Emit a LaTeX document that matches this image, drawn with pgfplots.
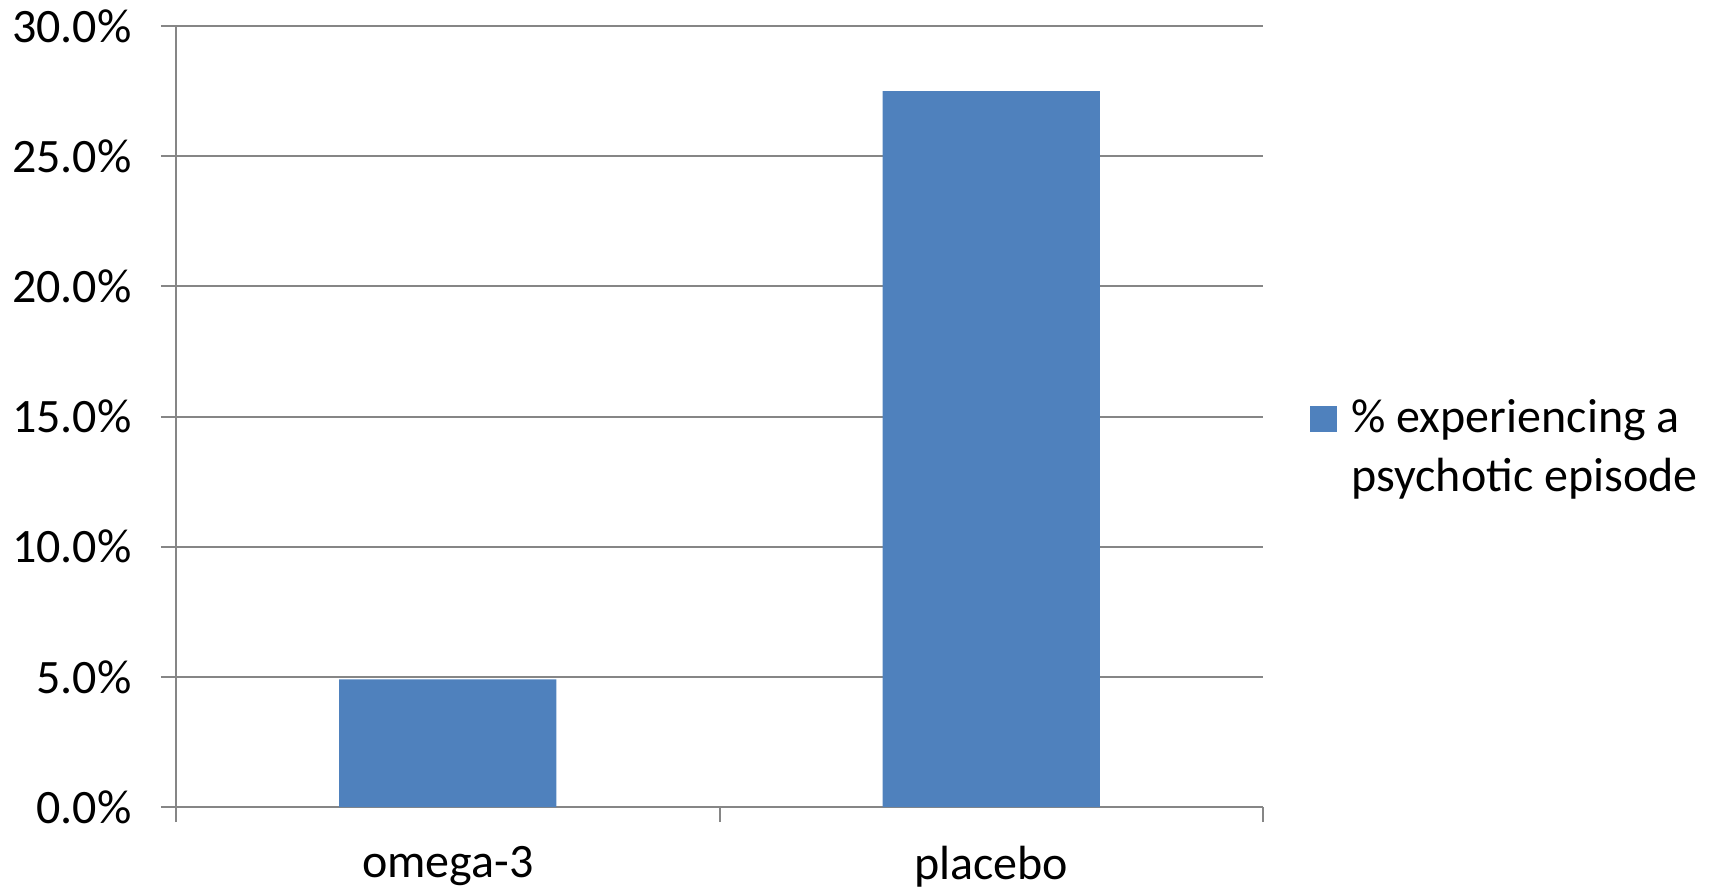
\documentclass[border=0pt]{standalone}
\usepackage{pgfplots}
\pgfplotsset{compat=1.18}
\usepackage{fontspec}
\setmainfont{Carlito}
\definecolor{barblue}{HTML}{4F81BD}
\definecolor{gridgray}{HTML}{868686}
\begin{document}
\fontsize{24}{29}\selectfont
\begin{tikzpicture}
\useasboundingbox (0,0) rectangle (857.5pt,445.5pt);
\begin{axis}[
  at={(88pt,42pt)}, anchor=south west,
  scale only axis, width=543.5pt, height=390.5pt,
  ymin=0, ymax=30,
  xmin=-0.5, xmax=1.5,
  axis x line*=bottom, axis y line*=left,
  axis line style={gridgray, line width=1pt, -},
  ytick={0,5,10,15,20,25,30},
  yticklabel={\pgfmathprintnumber[fixed,fixed zerofill,precision=1]{\tick}\%},
  /pgf/number format/assume math mode=true,
  ymajorgrids, grid style={gridgray, line width=1pt},
  xtick={0,1}, xticklabels={omega-3,placebo},
  minor xtick={-0.5,0.5,1.5},
  major x tick style={draw=none},
  minor x tick style={gridgray, line width=1pt},
  major y tick style={gridgray, line width=1pt},
  tick align=outside,
  major tick length=7.5pt, minor tick length=7.5pt,
  tick label style={font=\fontsize{24}{29}\selectfont},
  yticklabel style={xshift=-6.5pt},
  xticklabel style={yshift=-4pt},
  ybar, bar width=0.4,
  legend style={at={(1.037,0.458)}, anchor=west, draw=none, fill=none,
    font=\fontsize{24}{29.5}\selectfont,
    nodes={align=left, inner sep=0pt},
    /tikz/every odd column/.append style={column sep=7.5pt}},
  legend cell align=left,
  legend image code/.code={\fill[#1] (0pt,8.75pt) rectangle (13.5pt,21.75pt);},
]
\addplot[fill=barblue, draw=none] coordinates {(0,4.9) (1,27.5)};
\addlegendentry{\% experiencing a\\psychotic episode}
\end{axis}
\end{tikzpicture}
\end{document}
